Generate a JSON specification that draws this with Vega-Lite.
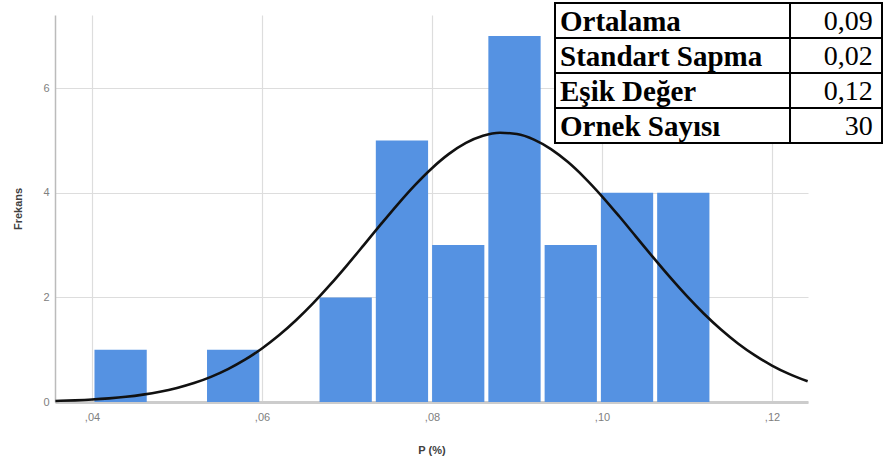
{
  "$schema": "https://vega.github.io/schema/vega-lite/v6.json",
  "width": 753,
  "height": 387,
  "autosize": "none",
  "padding": {"left": 55, "top": 15, "right": 77, "bottom": 69},
  "background": "white",
  "config": {"view": {"stroke": null}, "font": "Liberation Sans"},
  "datasets": {
    "bins": [
      {"start": 0.04000, "end": 0.04662, "count": 1},
      {"start": 0.05324, "end": 0.05986, "count": 1},
      {"start": 0.06648, "end": 0.07310, "count": 2},
      {"start": 0.07310, "end": 0.07972, "count": 5},
      {"start": 0.07972, "end": 0.08634, "count": 3},
      {"start": 0.08634, "end": 0.09296, "count": 7},
      {"start": 0.09296, "end": 0.09958, "count": 3},
      {"start": 0.09958, "end": 0.10620, "count": 4},
      {"start": 0.10620, "end": 0.11282, "count": 4}
    ],
    "curve": [
      {"p": 0.0357, "f": 0.020}, {"p": 0.038, "f": 0.032}, {"p": 0.040, "f": 0.047},
      {"p": 0.042, "f": 0.069}, {"p": 0.044, "f": 0.099}, {"p": 0.046, "f": 0.141},
      {"p": 0.048, "f": 0.196}, {"p": 0.050, "f": 0.269}, {"p": 0.052, "f": 0.362},
      {"p": 0.054, "f": 0.481}, {"p": 0.056, "f": 0.629}, {"p": 0.058, "f": 0.809},
      {"p": 0.060, "f": 1.024}, {"p": 0.062, "f": 1.275}, {"p": 0.064, "f": 1.563},
      {"p": 0.066, "f": 1.885}, {"p": 0.068, "f": 2.238}, {"p": 0.070, "f": 2.614},
      {"p": 0.072, "f": 3.005}, {"p": 0.074, "f": 3.400}, {"p": 0.076, "f": 3.785},
      {"p": 0.078, "f": 4.147}, {"p": 0.080, "f": 4.471}, {"p": 0.082, "f": 4.744},
      {"p": 0.084, "f": 4.954}, {"p": 0.086, "f": 5.091}, {"p": 0.088, "f": 5.148},
      {"p": 0.090, "f": 5.124}, {"p": 0.092, "f": 5.018}, {"p": 0.094, "f": 4.836},
      {"p": 0.096, "f": 4.587}, {"p": 0.098, "f": 4.282}, {"p": 0.100, "f": 3.934},
      {"p": 0.102, "f": 3.556}, {"p": 0.104, "f": 3.163}, {"p": 0.106, "f": 2.769},
      {"p": 0.108, "f": 2.386}, {"p": 0.110, "f": 2.023}, {"p": 0.112, "f": 1.688},
      {"p": 0.114, "f": 1.386}, {"p": 0.116, "f": 1.120}, {"p": 0.118, "f": 0.891},
      {"p": 0.120, "f": 0.697}, {"p": 0.122, "f": 0.537}, {"p": 0.1242, "f": 0.395}
    ],
    "stats": [
      {"label": "Ortalama", "value": "0,09"},
      {"label": "Standart Sapma", "value": "0,02"},
      {"label": "Eşik Değer", "value": "0,12"},
      {"label": "Ornek Sayısı", "value": "30"}
    ]
  },
  "layer": [
    {
      "layer": [
        {
          "data": {"name": "bins"},
          "mark": {"type": "bar", "color": "#5592e2", "binSpacing": 4},
          "encoding": {
            "x": {
              "field": "start", "type": "quantitative", "bin": "binned",
              "scale": {"domain": [0.03565, 0.12424], "nice": false, "zero": false},
              "axis": {
                "values": [0.04, 0.06, 0.08, 0.10, 0.12],
                "labelExpr": "replace(format(datum.value, '.2f'), '0.', ',')",
                "labelColor": "#808080", "labelFontSize": 11, "labelPadding": 9,
                "ticks": false,
                "domainColor": "#cccccc", "domainWidth": 3,
                "grid": true, "gridColor": "#dddddd", "gridWidth": 1.2,
                "title": "P (%)", "titleFontSize": 11, "titleFontWeight": "bold",
                "titleColor": "#404040", "titlePadding": 22
              }
            },
            "x2": {"field": "end"},
            "y": {
              "field": "count", "type": "quantitative",
              "scale": {"domain": [0, 7.4], "nice": false},
              "axis": {
                "values": [0, 2, 4, 6],
                "labelColor": "#808080", "labelFontSize": 11, "labelPadding": 6,
                "ticks": false,
                "domainColor": "#bbbbbb", "domainWidth": 1.5,
                "grid": true, "gridColor": "#dddddd", "gridWidth": 1.2,
                "title": "Frekans", "titleFontSize": 11, "titleFontWeight": "bold",
                "titleColor": "#404040", "titlePadding": 19
              }
            }
          }
        },
        {
          "data": {"name": "curve"},
          "mark": {"type": "line", "color": "#111111", "strokeWidth": 2.6, "interpolate": "monotone"},
          "encoding": {
            "x": {"field": "p", "type": "quantitative"},
            "y": {"field": "f", "type": "quantitative"}
          }
        }
      ]
    },
    {
      "data": {"name": "stats"},
      "layer": [
        {
          "mark": {"type": "rect", "fill": "white", "stroke": "black", "strokeWidth": 2},
          "encoding": {
            "x": {"datum": 0, "type": "quantitative", "scale": {"domain": [0, 1], "range": [500, 827]}, "axis": null},
            "x2": {"datum": 1},
            "y": {
              "field": "label", "type": "nominal", "sort": null,
              "scale": {"domain": ["Ortalama", "Standart Sapma", "Eşik Değer", "Ornek Sayısı"], "range": [-12, 128], "paddingInner": 0, "paddingOuter": 0},
              "axis": null
            }
          }
        },
        {
          "mark": {"type": "rect", "fill": "white", "stroke": "black", "strokeWidth": 2},
          "encoding": {
            "x": {"datum": 0.7187, "type": "quantitative"},
            "x2": {"datum": 1},
            "y": {"field": "label", "type": "nominal", "sort": null}
          }
        },
        {
          "mark": {"type": "text", "align": "left", "baseline": "middle", "font": "Liberation Serif, Times New Roman, serif", "fontWeight": "bold", "fontSize": 29, "color": "black", "dy": 1},
          "encoding": {
            "x": {"datum": 0.0153, "type": "quantitative"},
            "y": {"field": "label", "type": "nominal", "sort": null},
            "text": {"field": "label"}
          }
        },
        {
          "mark": {"type": "text", "align": "right", "baseline": "middle", "font": "Liberation Serif, Times New Roman, serif", "fontSize": 28, "color": "black", "dy": 1},
          "encoding": {
            "x": {"datum": 0.972, "type": "quantitative"},
            "y": {"field": "label", "type": "nominal", "sort": null},
            "text": {"field": "value"}
          }
        }
      ]
    }
  ],
  "resolve": {"scale": {"x": "independent", "y": "independent"}, "axis": {"x": "independent", "y": "independent"}}
}
